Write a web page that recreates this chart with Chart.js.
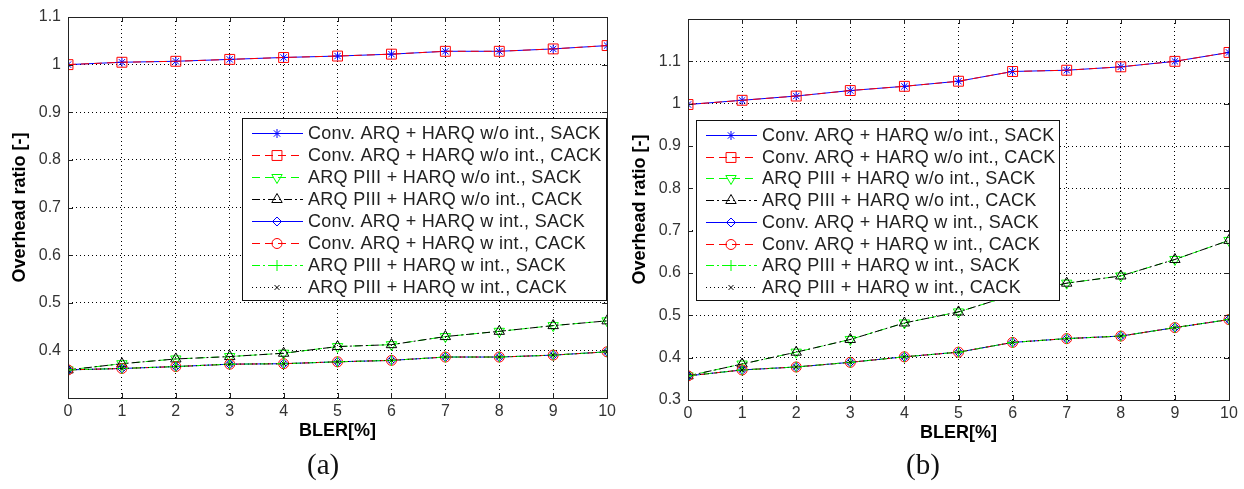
<!DOCTYPE html>
<html>
<head>
<meta charset="utf-8">
<script src="https://cdn.jsdelivr.net/npm/chart.js@4.4.0/dist/chart.umd.min.js"></script>
<style>
body{margin:0;background:#fff;width:1244px;height:489px;overflow:hidden;position:relative}
.box{position:absolute;top:0;height:489px}
#wa{left:0;width:620px}
#wb{left:620px;width:624px}
.cap{position:absolute;top:448px;font-family:"Liberation Serif","DejaVu Serif",serif;font-size:29px;color:#111}
</style>
</head>
<body>
<div class="box" id="wa"><canvas id="ca"></canvas></div>
<div class="box" id="wb"><canvas id="cb"></canvas></div>
<div class="cap" style="left:307px">(a)</div>
<div class="cap" style="left:906px">(b)</div>
<script>
// x axis: BLER in percent
const bler = [0, 1, 2, 3, 4, 5, 6, 7, 8, 9, 10];

const seriesNames = [
    'Conv. ARQ + HARQ w/o int., SACK',
    'Conv. ARQ + HARQ w/o int., CACK',
    'ARQ PIII + HARQ w/o int., SACK',
    'ARQ PIII + HARQ w/o int., CACK',
    'Conv. ARQ + HARQ w int., SACK',
    'Conv. ARQ + HARQ w int., CACK',
    'ARQ PIII + HARQ w int., SACK',
    'ARQ PIII + HARQ w int., CACK'
];

// (a)
const convWoA = [1.000, 1.005, 1.007, 1.011, 1.015, 1.018, 1.022, 1.028, 1.028, 1.033, 1.040];
const piiiWoA = [0.359, 0.372, 0.382, 0.387, 0.394, 0.408, 0.412, 0.429, 0.440, 0.452, 0.462];
const wIntA   = [0.359, 0.362, 0.366, 0.371, 0.372, 0.376, 0.379, 0.386, 0.386, 0.390, 0.397];
const yLabelsA = ['', '0.4', '0.5', '0.6', '0.7', '0.8', '0.9', '1', '1.1'];

// (b)
const convWoB = [0.998, 1.008, 1.018, 1.031, 1.041, 1.053, 1.076, 1.079, 1.087, 1.100, 1.121];
const piiiWoB = [0.357, 0.385, 0.413, 0.443, 0.482, 0.508, 0.548, 0.576, 0.593, 0.632, 0.677];
const wIntB   = [0.357, 0.371, 0.378, 0.389, 0.402, 0.413, 0.436, 0.445, 0.451, 0.471, 0.490];
const yLabelsB = ['0.3', '0.4', '0.5', '0.6', '0.7', '0.8', '0.9', '1', '1.1', ''];

const xLabels = ['0', '1', '2', '3', '4', '5', '6', '7', '8', '9', '10'];

// line style per series, same order as seriesNames
const lineStyles = [
    { color: '#0000ff', dash: [],           point: 'star',     r: 4.5, rot: 0 },
    { color: '#ff0000', dash: [8, 5],       point: 'rect',     r: 7,   rot: 0 },
    { color: '#00ff00', dash: [8, 5],       point: 'triangle', r: 6,   rot: 180 },
    { color: '#000000', dash: [8, 3, 2, 3], point: 'triangle', r: 6,   rot: 0 },
    { color: '#0000ff', dash: [],           point: 'rectRot',  r: 4.5, rot: 0 },
    { color: '#ff0000', dash: [8, 5],       point: 'circle',   r: 5,   rot: 0 },
    { color: '#00ff00', dash: [8, 3, 2, 3], point: 'cross',    r: 5.5, rot: 0 },
    { color: '#000000', dash: [1, 3],       point: 'crossRot', r: 3.5, rot: 0 }
];

Chart.defaults.font.family = '"Liberation Sans", Arial, sans-serif';

const boxLegend = {
    id: 'boxLegend',
    afterDatasetsDraw(chart, args, opts) {
        const ctx = chart.ctx, a = chart.chartArea;
        const xs = chart.scales.x, ys = chart.scales.y;
        ctx.save();
        ctx.setLineDash([]);
        ctx.strokeStyle = '#222';
        ctx.lineWidth = 1;
        // axes box with inward ticks
        ctx.strokeRect(Math.round(a.left) + 0.5, Math.round(a.top) + 0.5,
            Math.round(a.right - a.left), Math.round(a.bottom - a.top));
        ctx.beginPath();
        xs.ticks.forEach(t => {
            const px = Math.round(xs.getPixelForValue(t.value)) + 0.5;
            ctx.moveTo(px, a.bottom); ctx.lineTo(px, a.bottom - 5);
            ctx.moveTo(px, a.top); ctx.lineTo(px, a.top + 5);
        });
        ys.ticks.forEach(t => {
            const py = Math.round(ys.getPixelForValue(t.value)) + 0.5;
            ctx.moveTo(a.left, py); ctx.lineTo(a.left + 5, py);
            ctx.moveTo(a.right, py); ctx.lineTo(a.right - 5, py);
        });
        ctx.stroke();

        // legend inside plot
        const bx = Math.round(a.left + opts.dx), by = Math.round(a.top + opts.dy);
        ctx.fillStyle = '#fff';
        ctx.fillRect(bx, by, opts.w, opts.h);
        ctx.strokeStyle = '#111';
        ctx.strokeRect(bx + 0.5, by + 0.5, opts.w, opts.h);
        ctx.font = '18px "Liberation Sans", Arial, sans-serif';
        ctx.letterSpacing = '0.3px';
        ctx.textBaseline = 'middle';
        chart.data.datasets.forEach((ds, i) => {
            const y = Math.round(by + opts.first + i * opts.rowH);
            ctx.strokeStyle = ds.borderColor;
            ctx.setLineDash(ds.borderDash);
            ctx.beginPath();
            ctx.moveTo(bx + 10, y + 0.5);
            ctx.lineTo(bx + 61, y + 0.5);
            ctx.stroke();
            ctx.setLineDash([]);
            ctx.fillStyle = 'rgba(0,0,0,0)';
            Chart.helpers.drawPoint(ctx, {
                pointStyle: ds.pointStyle, radius: ds.pointRadius,
                rotation: ds.pointRotation, borderWidth: 1
            }, bx + 35, y + 0.5);
            ctx.fillStyle = '#222';
            ctx.fillText(ds.label, bx + 66, y + 1);
        });
        ctx.restore();
    }
};

function makeDatasets(conv, piii, wInt) {
    const values = [conv, conv, piii, piii, wInt, wInt, wInt, wInt];
    return seriesNames.map((name, i) => {
        const s = lineStyles[i];
        return {
            label: name,
            data: bler.map((x, j) => ({ x: x, y: values[i][j] })),
            borderColor: s.color,
            borderWidth: 1,
            borderDash: s.dash,
            pointStyle: s.point,
            pointRadius: s.r,
            pointRotation: s.rot,
            pointBorderColor: s.color,
            pointBackgroundColor: 'rgba(0,0,0,0)',
            pointBorderWidth: 1,
            tension: 0,
            order: 8 - i
        };
    });
}

function newOverheadChart(ctx, datasets, yMax, yLabels, pad, legendPos) {
    return new Chart(ctx, {
        type: 'line',
        data: { datasets: datasets },
        options: {
            responsive: true,
            maintainAspectRatio: false,
            animation: false,
            layout: { padding: pad },
            plugins: {
                legend: { display: false },
                tooltip: { enabled: false },
                boxLegend: legendPos
            },
            scales: {
                x: {
                    type: 'linear',
                    min: 0,
                    max: 10,
                    ticks: {
                        stepSize: 1,
                        padding: 4,
                        color: '#333',
                        font: { size: 16 },
                        callback: (v, i) => xLabels[i]
                    },
                    grid: { color: '#000', lineWidth: 1, drawTicks: false },
                    border: { display: false, dash: [1, 3] },
                    title: {
                        display: true,
                        text: 'BLER[%]',
                        color: '#000',
                        font: { size: 18, weight: 'bold' },
                        padding: { top: 0, bottom: 0 }
                    },
                    afterFit: s => { s.height = 44; }
                },
                y: {
                    min: 0.3,
                    max: yMax,
                    ticks: {
                        stepSize: 0.1,
                        padding: 7,
                        color: '#333',
                        font: { size: 16 },
                        callback: (v, i) => yLabels[i]
                    },
                    grid: { color: '#000', lineWidth: 1, drawTicks: false },
                    border: { display: false, dash: [1, 3] },
                    title: {
                        display: true,
                        text: 'Overhead ratio [-]',
                        color: '#000',
                        font: { size: 18, weight: 'bold' },
                        padding: { top: 9, bottom: 0 }
                    },
                    afterFit: s => { s.width = 68; }
                }
            }
        },
        plugins: [boxLegend]
    });
}

const chartA = newOverheadChart(document.getElementById('ca'),
    makeDatasets(convWoA, piiiWoA, wIntA), 1.1, yLabelsA,
    { left: 0, top: 17, right: 7, bottom: 47 },
    { dx: 174, dy: 101, w: 364, h: 182, first: 15, rowH: 22 });

const chartB = newOverheadChart(document.getElementById('cb'),
    makeDatasets(convWoB, piiiWoB, wIntB), 1.2, yLabelsB,
    { left: 0, top: 19, right: 15, bottom: 45 },
    { dx: 8, dy: 101, w: 363, h: 180, first: 15, rowH: 21.7 });
</script>
</body>
</html>
